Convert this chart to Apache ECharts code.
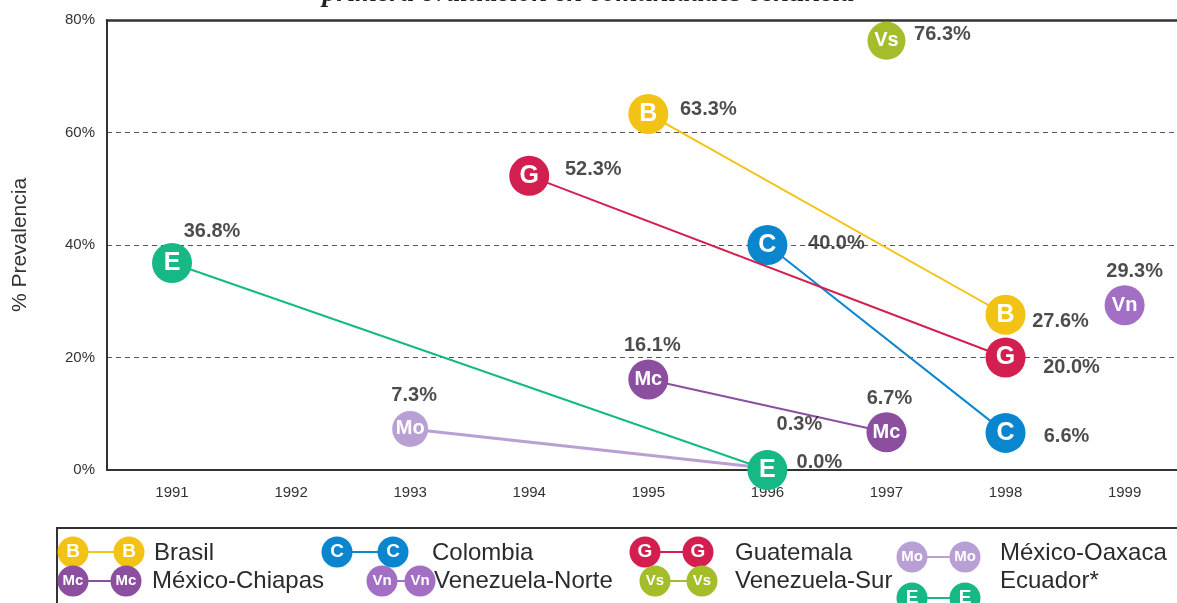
<!DOCTYPE html>
<html>
<head>
<meta charset="utf-8">
<title>Prevalencia por país</title>
<script src="https://cdn.jsdelivr.net/npm/echarts@6/dist/echarts.min.js"></script>
<style>
  html, body { margin: 0; padding: 0; background: #fff; }
  #chart { width: 1177px; height: 603px; }
</style>
</head>
<body>
<div id="chart"></div>
<script>
// años del eje x
const years = [1991, 1992, 1993, 1994, 1995, 1996, 1997, 1998, 1999];

// datos: año de evaluación y % de prevalencia
const brasilYears = [1995, 1998];
const brasilValues = [63.3, 27.6];
const colombiaYears = [1996, 1998];
const colombiaValues = [40.0, 6.6];
const guatemalaYears = [1994, 1998];
const guatemalaValues = [52.3, 20.0];
const oaxacaYears = [1993, 1996];
const oaxacaValues = [7.3, 0.3];
const chiapasYears = [1995, 1997];
const chiapasValues = [16.1, 6.7];
const vNorteYears = [1999];
const vNorteValues = [29.3];
const vSurYears = [1997];
const vSurValues = [76.3];
const ecuadorYears = [1991, 1996];
const ecuadorValues = [36.8, 0.0];

const FONT = "'Liberation Sans', Arial, sans-serif";
const NARROW = "'Liberation Sans Narrow', 'Liberation Sans', Arial, sans-serif";
const X_MIN = 1990.454, X_MAX = 1999.44;

// estilo de cada serie (color, letra, desplazamiento de la etiqueta de %)
const countries = [
  { name: 'Brasil', abbr: 'B', color: '#f2c314', years: brasilYears, values: brasilValues, size: 40, offsets: [[60, -4], [55, 7]] },
  { name: 'Colombia', abbr: 'C', color: '#0a86cf', years: colombiaYears, values: colombiaValues, size: 40, offsets: [[69, -2], [61, 4]] },
  { name: 'Guatemala', abbr: 'G', color: '#d31f4f', years: guatemalaYears, values: guatemalaValues, size: 40, offsets: [[64, -6], [66, 10]] },
  { name: 'México-Oaxaca', abbr: 'Mo', color: '#b9a0d4', years: oaxacaYears, values: oaxacaValues, size: 36, offsets: [[4, -33], [32, -44]] },
  { name: 'México-Chiapas', abbr: 'Mc', color: '#8c4fa0', years: chiapasYears, values: chiapasValues, size: 40, offsets: [[4, -34], [3, -34]] },
  { name: 'Venezuela-Norte', abbr: 'Vn', color: '#a26fc4', years: vNorteYears, values: vNorteValues, size: 40, offsets: [[10, -34]] },
  { name: 'Venezuela-Sur', abbr: 'Vs', color: '#a4bd2a', years: vSurYears, values: vSurValues, size: 38, offsets: [[56, -6]] },
  { name: 'Ecuador*', abbr: 'E', color: '#16b985', years: ecuadorYears, values: ecuadorValues, size: 40, offsets: [[40, -32], [52, -8]] }
];

// orden y posición de la leyenda: [circulo1 x, circulo2 x, texto x, y texto, y iconos]
const legendOrder = ['Brasil', 'Colombia', 'Guatemala', 'México-Oaxaca',
  'México-Chiapas', 'Venezuela-Norte', 'Venezuela-Sur', 'Ecuador*'];
const legendSlots = [
  [73, 129, 154, 553, 552], [337, 393, 432, 553, 552], [645, 698, 735, 553, 552], [912, 965, 1000, 553, 557],
  [73, 126, 152, 581, 581], [382, 420, 434, 581, 581], [655, 702, 735, 581, 581], [912, 965, 1000, 581, 598]
];

const chart = echarts.init(document.getElementById('chart'));

const series = [];
countries.forEach((c, idx) => {
  const pts = c.years.map((y, i) => [y, c.values[i]]);
  series.push({
    name: c.name,
    type: 'line',
    data: pts,
    clip: false,
    symbol: 'circle',
    symbolSize: c.size,
    lineStyle: { color: c.color, width: c.abbr === 'Mo' ? 3 : 2 },
    itemStyle: { color: c.color },
    label: {
      show: true,
      position: 'inside',
      formatter: c.abbr,
      color: '#fff',
      fontWeight: 'bold',
      fontFamily: c.abbr.length > 1 ? NARROW : FONT,
      fontSize: c.abbr.length > 1 ? 20 : 25
    },
    emphasis: { disabled: true },
    z: 3 + idx
  });
  // etiquetas de porcentaje
  series.push({
    type: 'scatter',
    data: pts.map((p, i) => ({
      value: p,
      label: { offset: c.offsets[i] }
    })),
    clip: false,
    symbolSize: 1,
    itemStyle: { color: 'transparent' },
    label: {
      show: true,
      position: 'inside',
      formatter: (p) => p.value[1].toFixed(1) + '%',
      color: '#1f1f1f',
      fontWeight: 'bold',
      fontFamily: FONT,
      fontSize: 20
    },
    silent: true,
    z: 20
  });
});

// título (cortado arriba) y leyenda dibujada a mano (iconos de dos círculos unidos)
const graphics = [
  {
    type: 'text',
    left: 'center',
    top: -20,
    style: {
      text: 'primera evaluación en comunidades centinela',
      font: "italic bold 28px 'Liberation Serif', 'DejaVu Serif', serif",
      fill: '#222'
    }
  },
  {
    type: 'rect',
    shape: { x: 57, y: 528, width: 1200, height: 120 },
    style: { fill: 'none', stroke: '#333', lineWidth: 2 },
    z: 1
  }
];
legendOrder.forEach((name, i) => {
  const c = countries.find(d => d.name === name);
  const [x1, x2, tx, ty, iy] = legendSlots[i];
  graphics.push({
    type: 'line',
    shape: { x1: x1, y1: iy, x2: x2, y2: iy },
    style: { stroke: c.color, lineWidth: 2 },
    z: 2
  });
  [x1, x2].forEach(cx => {
    graphics.push({
      type: 'circle',
      shape: { cx: cx, cy: iy, r: 15.5 },
      style: { fill: c.color },
      z: 3
    });
    graphics.push({
      type: 'text',
      x: cx,
      y: iy,
      style: {
        text: c.abbr,
        fill: '#fff',
        font: c.abbr.length > 1 ? "bold 15px " + NARROW : "bold 19px " + FONT,
        align: 'center',
        verticalAlign: 'middle'
      },
      z: 4
    });
  });
  graphics.push({
    type: 'text',
    x: tx,
    y: ty,
    style: {
      text: name,
      fill: '#2b2b2b',
      font: '24px ' + FONT,
      verticalAlign: 'middle'
    },
    z: 4
  });
});

const option = {
  backgroundColor: '#fff',
  animation: false,
  grid: {
    left: 107,
    top: 20,
    bottom: 133,
    right: 0,
    containLabel: false
  },
  xAxis: [
    {
      type: 'value',
      min: X_MIN,
      max: X_MAX,
      axisLine: { show: true, onZero: false, lineStyle: { color: '#333', width: 2 } },
      axisTick: { show: false },
      splitLine: { show: false },
      axisLabel: {
        customValues: years,
        formatter: (v) => String(v),
        color: '#333',
        fontSize: 15,
        fontFamily: FONT,
        margin: 15
      }
    },
    {
      type: 'value',
      position: 'top',
      min: X_MIN,
      max: X_MAX,
      axisLine: { show: true, onZero: false, lineStyle: { color: '#333', width: 2.5 } },
      axisTick: { show: false },
      axisLabel: { show: false },
      splitLine: { show: false }
    }
  ],
  yAxis: {
    type: 'value',
    min: 0,
    max: 80,
    interval: 20,
    name: '% Prevalencia',
    nameLocation: 'middle',
    nameRotate: 90,
    nameGap: 76,
    nameTextStyle: { color: '#333', fontSize: 21, fontFamily: FONT },
    axisLine: { show: true, lineStyle: { color: '#333', width: 2 } },
    axisTick: { show: false },
    axisLabel: {
      formatter: '{value}%',
      color: '#333',
      fontSize: 15,
      fontFamily: FONT,
      margin: 12
    },
    splitLine: {
      show: true,
      lineStyle: { color: '#555', type: [5, 4], width: 1 }
    }
  },
  graphic: graphics,
  series: series
};

chart.setOption(option);
</script>
</body>
</html>
